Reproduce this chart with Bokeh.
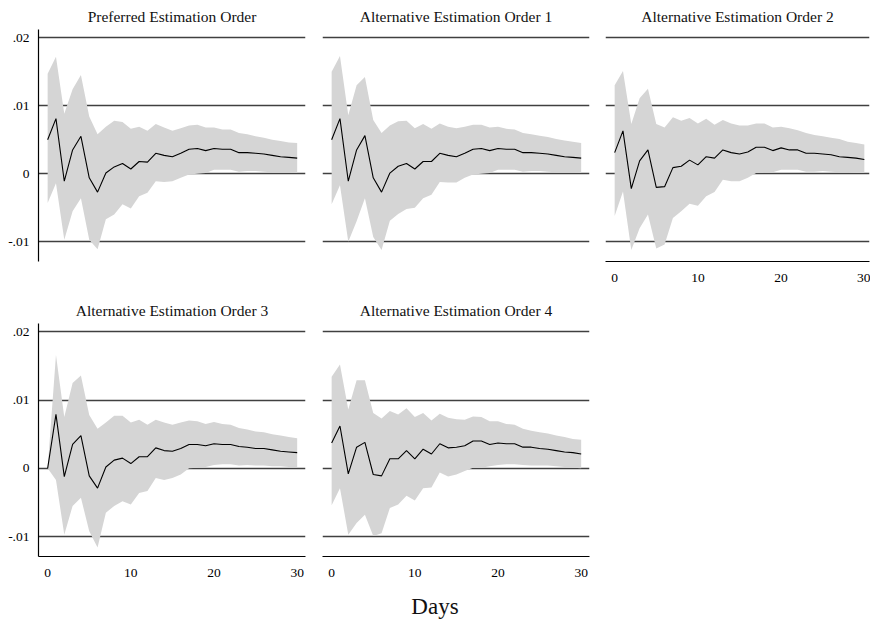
from bokeh.plotting import figure
from bokeh.layouts import column, row
from bokeh.models import Range1d, LinearAxis, FixedTicker, Div, ColumnDataSource
from bokeh.embed import file_html
from bokeh.resources import INLINE

# ---------------- data ----------------
days = list(range(31))

titles = [
    "Preferred Estimation Order",
    "Alternative Estimation Order 1",
    "Alternative Estimation Order 2",
    "Alternative Estimation Order 3",
    "Alternative Estimation Order 4",
]

irf_pref = [0.0050, 0.0081, -0.0011, 0.0035, 0.0055, -0.0006, -0.0027, 0.0001, 0.0010, 0.0015, 0.0007,
            0.0018, 0.0017, 0.0030, 0.0027, 0.0025, 0.0030, 0.0036, 0.0037, 0.0034, 0.0037,
            0.0036, 0.0036, 0.0031, 0.0031, 0.0030, 0.0029, 0.0027, 0.0025, 0.0024, 0.0023]
hi_pref = [0.0147, 0.0172, 0.0088, 0.0124, 0.0145, 0.0084, 0.0058, 0.0069, 0.0078, 0.0076, 0.0066,
           0.0069, 0.0063, 0.0073, 0.0068, 0.0063, 0.0067, 0.0071, 0.0072, 0.0068, 0.0068,
           0.0065, 0.0065, 0.0060, 0.0058, 0.0055, 0.0053, 0.0050, 0.0048, 0.0046, 0.0045]
lo_pref = [-0.0043, -0.0014, -0.0097, -0.0055, -0.0036, -0.0097, -0.0111, -0.0067, -0.0060, -0.0045, -0.0051,
           -0.0033, -0.0028, -0.0011, -0.0012, -0.0011, -0.0006, -0.0001, 0.0000, 0.0001, 0.0006,
           0.0006, 0.0006, 0.0003, 0.0004, 0.0004, 0.0003, 0.0002, 0.0002, 0.0002, 0.0001]

irf_alt1 = [0.0050, 0.0081, -0.0011, 0.0035, 0.0056, -0.0006, -0.0027, 0.0001, 0.0011, 0.0015, 0.0007,
            0.0018, 0.0018, 0.0030, 0.0027, 0.0025, 0.0030, 0.0036, 0.0037, 0.0034, 0.0037,
            0.0036, 0.0036, 0.0031, 0.0031, 0.0030, 0.0029, 0.0027, 0.0025, 0.0024, 0.0023]
hi_alt1 = [0.0150, 0.0173, 0.0086, 0.0130, 0.0142, 0.0079, 0.0060, 0.0071, 0.0077, 0.0078, 0.0067,
           0.0073, 0.0066, 0.0074, 0.0069, 0.0067, 0.0069, 0.0072, 0.0072, 0.0068, 0.0069,
           0.0066, 0.0065, 0.0060, 0.0058, 0.0056, 0.0054, 0.0051, 0.0049, 0.0047, 0.0045]
lo_alt1 = [-0.0045, -0.0017, -0.0100, -0.0070, -0.0036, -0.0093, -0.0112, -0.0069, -0.0059, -0.0052, -0.0050,
           -0.0036, -0.0031, -0.0012, -0.0013, -0.0013, -0.0006, -0.0001, 0.0000, 0.0001, 0.0006,
           0.0006, 0.0006, 0.0003, 0.0004, 0.0004, 0.0003, 0.0002, 0.0002, 0.0002, 0.0001]

irf_alt2 = [0.0031, 0.0063, -0.0022, 0.0019, 0.0035, -0.0020, -0.0019, 0.0009, 0.0011, 0.0020, 0.0013,
            0.0025, 0.0023, 0.0035, 0.0031, 0.0029, 0.0032, 0.0039, 0.0039, 0.0034, 0.0038,
            0.0035, 0.0035, 0.0030, 0.0030, 0.0029, 0.0028, 0.0025, 0.0024, 0.0023, 0.0021]
hi_alt2 = [0.0130, 0.0151, 0.0073, 0.0111, 0.0125, 0.0073, 0.0068, 0.0083, 0.0078, 0.0082, 0.0074,
           0.0081, 0.0072, 0.0079, 0.0074, 0.0071, 0.0071, 0.0074, 0.0074, 0.0068, 0.0069,
           0.0067, 0.0064, 0.0060, 0.0057, 0.0055, 0.0053, 0.0051, 0.0047, 0.0045, 0.0043]
lo_alt2 = [-0.0062, -0.0026, -0.0112, -0.0080, -0.0060, -0.0110, -0.0104, -0.0065, -0.0055, -0.0044, -0.0047,
           -0.0033, -0.0027, -0.0009, -0.0011, -0.0011, -0.0006, 0.0001, 0.0002, 0.0002, 0.0006,
           0.0006, 0.0006, 0.0003, 0.0003, 0.0004, 0.0003, 0.0002, 0.0002, 0.0001, 0.0001]

irf_alt3 = [0.0000, 0.0079, -0.0012, 0.0035, 0.0048, -0.0011, -0.0029, 0.0002, 0.0012, 0.0015, 0.0007,
            0.0017, 0.0017, 0.0030, 0.0026, 0.0025, 0.0029, 0.0035, 0.0035, 0.0033, 0.0036,
            0.0035, 0.0035, 0.0032, 0.0031, 0.0029, 0.0029, 0.0027, 0.0025, 0.0024, 0.0023]
hi_alt3 = [0.0000, 0.0166, 0.0075, 0.0125, 0.0136, 0.0078, 0.0058, 0.0067, 0.0077, 0.0077, 0.0067,
           0.0071, 0.0064, 0.0071, 0.0067, 0.0064, 0.0067, 0.0070, 0.0069, 0.0065, 0.0068,
           0.0065, 0.0064, 0.0059, 0.0057, 0.0054, 0.0053, 0.0050, 0.0048, 0.0046, 0.0044]
lo_alt3 = [0.0000, -0.0017, -0.0097, -0.0055, -0.0043, -0.0092, -0.0116, -0.0065, -0.0055, -0.0048, -0.0053,
           -0.0036, -0.0033, -0.0014, -0.0017, -0.0014, -0.0009, 0.0000, 0.0001, 0.0002, 0.0005,
           0.0006, 0.0006, 0.0004, 0.0005, 0.0004, 0.0004, 0.0003, 0.0003, 0.0002, 0.0002]

irf_alt4 = [0.0037, 0.0062, -0.0008, 0.0031, 0.0038, -0.0009, -0.0011, 0.0014, 0.0014, 0.0026, 0.0014,
            0.0028, 0.0021, 0.0036, 0.0030, 0.0031, 0.0033, 0.0040, 0.0040, 0.0035, 0.0037,
            0.0036, 0.0036, 0.0031, 0.0031, 0.0029, 0.0028, 0.0026, 0.0024, 0.0023, 0.0021]
hi_alt4 = [0.0134, 0.0152, 0.0086, 0.0129, 0.0129, 0.0081, 0.0073, 0.0084, 0.0079, 0.0088, 0.0075,
           0.0081, 0.0070, 0.0080, 0.0074, 0.0072, 0.0071, 0.0076, 0.0075, 0.0069, 0.0069,
           0.0065, 0.0064, 0.0058, 0.0055, 0.0053, 0.0051, 0.0048, 0.0046, 0.0043, 0.0042]
lo_alt4 = [-0.0054, -0.0029, -0.0097, -0.0080, -0.0068, -0.0099, -0.0095, -0.0058, -0.0053, -0.0040, -0.0047,
           -0.0029, -0.0028, -0.0006, -0.0012, -0.0009, -0.0004, 0.0001, 0.0001, 0.0003, 0.0005,
           0.0006, 0.0006, 0.0005, 0.0004, 0.0004, 0.0004, 0.0003, 0.0002, 0.0001, 0.0000]

ytick_vals = [-0.01, 0.0, 0.01, 0.02]
ytick_labels = ["-.01", "0", ".01", ".02"]
xtick_vals = [0, 10, 20, 30]
xlabel = "Days"

# ---------------- style ----------------
FONT = "Liberation Serif"
BAND = "#d5d5d5"
GRID = "#404040"


def style_axis(ax, standoff):
    ax.axis_line_color = "black"
    ax.axis_line_width = 1.2
    ax.major_tick_line_color = None
    ax.minor_tick_line_color = None
    ax.major_tick_in = 0
    ax.major_tick_out = 0
    ax.major_label_standoff = standoff
    ax.major_label_text_font = FONT
    ax.major_label_text_font_size = "13.5px"
    ax.major_label_text_color = "black"


def panel(title, lo, hi, irf, width, height, left, right, top, bottom, x_end, yaxis, xaxis):
    p = figure(width=width, height=height,
               x_range=Range1d(-1.1, x_end), y_range=Range1d(-0.0129, 0.0212),
               x_axis_location=None, y_axis_location=None,
               toolbar_location=None, output_backend="svg",
               min_border_left=left, min_border_right=right,
               min_border_top=top, min_border_bottom=bottom,
               outline_line_color=None, title=title)
    p.title.text_font = FONT
    p.title.text_font_size = "15.5px"
    p.title.text_font_style = "normal"
    p.title.text_color = "#111111"
    p.title.align = "center"
    p.title.standoff = 10
    p.xgrid.visible = False
    p.ygrid.ticker = FixedTicker(ticks=ytick_vals)
    p.ygrid.grid_line_color = GRID
    p.ygrid.grid_line_width = 1.5
    src = ColumnDataSource(dict(x=days, lo=lo, hi=hi, irf=irf))
    p.varea(x="x", y1="lo", y2="hi", source=src, fill_color=BAND)
    p.line("x", "irf", source=src, line_color="black", line_width=1.1)
    if yaxis:
        ax = LinearAxis(ticker=FixedTicker(ticks=ytick_vals),
                        major_label_overrides=dict(zip(ytick_vals, ytick_labels)))
        style_axis(ax, 9)
        p.add_layout(ax, "left")
    if xaxis:
        bx = LinearAxis(ticker=FixedTicker(ticks=xtick_vals))
        style_axis(bx, 12)
        p.add_layout(bx, "below")
    return p


p1 = panel(titles[0], lo_pref, hi_pref, irf_pref, 313, 292, 38, 8, 28, 31, 31.0, True, False)
p2 = panel(titles[1], lo_alt1, hi_alt1, irf_alt1, 284, 292, 9, 8, 28, 31, 31.0, False, False)
p3 = panel(titles[2], lo_alt2, hi_alt2, irf_alt2, 273, 292, 8, 1, 28, 31, 30.62, False, True)
p4 = panel(titles[3], lo_alt3, hi_alt3, irf_alt3, 313, 302, 38, 8, 31, 38, 31.0, True, True)
p5 = panel(titles[4], lo_alt4, hi_alt4, irf_alt4, 284, 302, 9, 8, 31, 38, 31.0, False, True)

days_div = Div(text=xlabel, width=870, height=26, margin=0,
               styles={"font-family": FONT, "font-size": "23px", "line-height": "26px",
                       "text-align": "center", "color": "#111111", "width": "870px"})

layout = column(row(p1, p2, p3), row(p4, p5), days_div)

open("out.html", "w").write(file_html(layout, INLINE))
